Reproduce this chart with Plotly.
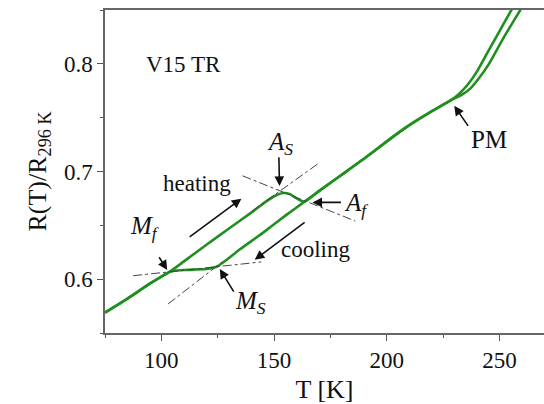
import plotly.graph_objects as go

# ---- data ----
heat_T = [75, 85, 95, 103.8, 110, 120, 130, 140, 147, 151, 154, 157, 160, 163.5,
          170, 180, 190, 200, 210, 220, 229, 232, 236, 240, 244, 248, 252, 255.5]
heat_R = [0.569, 0.582, 0.596, 0.607, 0.6165, 0.632, 0.647, 0.662, 0.673, 0.678, 0.680,
          0.679, 0.675, 0.672, 0.682, 0.697, 0.712, 0.728, 0.743, 0.756, 0.767,
          0.772, 0.781, 0.793, 0.808, 0.823, 0.838, 0.851]

cool_T = [259.5, 256, 252, 248, 245, 241, 237, 233, 229, 220, 210, 200, 190,
          180, 170, 163.5, 155, 145, 135, 128, 124.5, 120, 115, 110, 105, 103.8, 95, 85, 75]
cool_R = [0.851, 0.839, 0.825, 0.810, 0.799, 0.787, 0.777, 0.771, 0.767, 0.756, 0.743,
          0.728, 0.712, 0.697, 0.682, 0.672, 0.659, 0.643, 0.628, 0.6165,
          0.6115, 0.6095, 0.609, 0.6085, 0.6075, 0.607, 0.596, 0.582, 0.569]

# tangent construction lines (T pairs, R pairs)
tangent_T = [[87.5, 144.3], [103, 127], [140, 170], [136, 186]]
tangent_R = [[0.6032, 0.6160], [0.577, 0.616], [0.663, 0.708], [0.696, 0.654]]

# labels with arrows
arrow_labels = ["<i>A</i><sub><i>S</i></sub>", "<i>A</i><sub><i>f</i></sub>",
                "<i>M</i><sub><i>f</i></sub>", "<i>M</i><sub><i>S</i></sub>", "PM"]
arrow_label_T = [152.8, 186.5, 92.5, 139.5, 245.5]
arrow_label_R = [0.726, 0.669, 0.648, 0.578, 0.730]
head_T = [152.4, 167.0, 102.6, 125.9, 229.9]
head_R = [0.6865, 0.6713, 0.6085, 0.6094, 0.761]
tail_T = [152.1, 180.3, 98.6, 132.5, 236.5]
tail_R = [0.7145, 0.6713, 0.6218, 0.587, 0.741]

# direction arrows (heating / cooling)
dir_head_T = [135.5, 141.4]
dir_head_R = [0.6747, 0.618]
dir_tail_T = [111.9, 164.2]
dir_tail_R = [0.6383, 0.6538]

text_labels = ["V15 TR", "heating", "cooling"]
text_T = [110, 115.9, 168.4]
text_R = [0.799, 0.6885, 0.6274]

x_ticks = [100, 150, 200, 250]
y_ticks = [0.6, 0.7, 0.8]

FONT = "Times New Roman, Liberation Serif, serif"
GREEN = "#1f901f"

fig = go.Figure()
fig.add_trace(go.Scatter(x=heat_T, y=heat_R, mode="lines", name="heating",
                         line=dict(color=GREEN, width=2.6, shape="spline", smoothing=0.5)))
fig.add_trace(go.Scatter(x=cool_T, y=cool_R, mode="lines", name="cooling",
                         line=dict(color=GREEN, width=2.6, shape="spline", smoothing=0.5)))
for tx, ty in zip(tangent_T, tangent_R):
    fig.add_trace(go.Scatter(x=tx, y=ty, mode="lines", showlegend=False,
                             line=dict(color="#444444", width=1, dash="dashdot")))

anns = []
for t, lx, ly in zip(text_labels, text_T, text_R):
    anns.append(dict(x=lx, y=ly, text=t, showarrow=False, xref="x", yref="y",
                     font=dict(family=FONT, size=23, color="#111111")))
for t, lx, ly in zip(arrow_labels, arrow_label_T, arrow_label_R):
    anns.append(dict(x=lx, y=ly, text=t, showarrow=False, xref="x", yref="y",
                     font=dict(family=FONT, size=25, color="#111111")))
for hx, hy, tx, ty in zip(head_T + dir_head_T, head_R + dir_head_R,
                          tail_T + dir_tail_T, tail_R + dir_tail_R):
    anns.append(dict(x=hx, y=hy, ax=tx, ay=ty, xref="x", yref="y", axref="x", ayref="y",
                     text="", showarrow=True, arrowhead=2, arrowsize=1.2,
                     arrowwidth=1.6, arrowcolor="#111111"))

fig.update_layout(
    width=544, height=404,
    margin=dict(l=105, r=0, t=10, b=71),
    paper_bgcolor="white", plot_bgcolor="white",
    showlegend=False,
    font=dict(family=FONT, size=23, color="#111111"),
    annotations=anns,
    xaxis=dict(range=[75, 269.7], tickvals=x_ticks, ticks="outside", ticklen=6,
               tickwidth=1.3, tickcolor="#555555", showline=True, linecolor="#666666",
               linewidth=1.5, mirror=True, showgrid=False, zeroline=False,
               minor=dict(dtick=25, tick0=75, ticks="outside", ticklen=3, tickcolor="#555555"),
               title=dict(text="T [K]", font=dict(family=FONT, size=26), standoff=8),
               tickfont=dict(family=FONT, size=23)),
    yaxis=dict(range=[0.55, 0.85], tickvals=y_ticks, tickformat=".1f", ticks="outside",
               ticklen=6, tickwidth=1.3, tickcolor="#555555", showline=True,
               linecolor="#666666", linewidth=1.5, mirror=False, showgrid=False,
               zeroline=False,
               minor=dict(dtick=0.05, tick0=0.55, ticks="outside", ticklen=3, tickcolor="#555555"),
               title=dict(text="R(T)/R<sub>296 K</sub>", font=dict(family=FONT, size=26), standoff=10),
               tickfont=dict(family=FONT, size=23)),
)

fig.write_html("out.html")
